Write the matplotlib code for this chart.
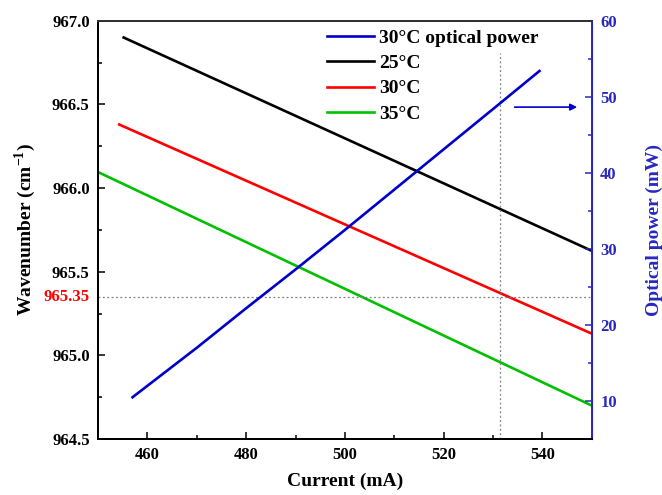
import numpy as np
import matplotlib.pyplot as plt
from matplotlib.lines import Line2D
from matplotlib.ticker import MultipleLocator
import matplotlib.transforms as mtransforms

plt.rcParams['font.family'] = ['Liberation Serif', 'DejaVu Serif']
plt.rcParams['font.weight'] = 'bold'
plt.rcParams['mathtext.fontset'] = 'custom'
plt.rcParams['mathtext.rm'] = 'Liberation Serif:bold'
plt.rcParams['mathtext.bf'] = 'Liberation Serif:bold'

# wavenumber vs current (straight lines)
cur_25 = [455.2, 550]
wn_25 = [966.90, 965.625]
cur_30 = [454.3, 550]
wn_30 = [966.38, 965.13]
cur_35 = [450, 550]
wn_35 = [966.096, 964.70]

# optical power at 30 C
cur_pow = [457, 470, 480, 490, 500, 510, 520, 530, 539.4]
power = [10.5, 17.0, 22.2, 27.3, 32.5, 37.8, 43.1, 48.4, 53.4]

mark_wn = 965.35
mark_cur = 531.4

blue = '#0000C8'
blue_ax = '#2828C0'

fig = plt.figure(figsize=(6.62, 4.95), dpi=100)
ax = fig.add_axes([0.148, 0.113, 0.746, 0.845])
ax2 = ax.twinx()

ax.plot(cur_25, wn_25, color='black', lw=1.9)
ax.plot(cur_30, wn_30, color='#FF0000', lw=1.9)
ax.plot(cur_35, wn_35, color='#00C000', lw=1.9)
ax.axhline(mark_wn, color='gray', ls=(0, (1.5, 2)), lw=0.9)
ax.plot([mark_cur, mark_cur], [964.5, 966.81], color='gray', ls=(0, (1.5, 2)), lw=0.9)

ax2.plot(cur_pow, power, color=blue, lw=1.9)
ax2.annotate('', xy=(547.6, 48.65), xytext=(533.8, 48.65),
             arrowprops=dict(arrowstyle='-|>', color=blue, lw=1.2,
                             mutation_scale=10))

ax.set_xlim(450, 550)
ax.set_ylim(964.5, 967.0)
ax2.set_ylim(5, 60)

ax.xaxis.set_major_locator(MultipleLocator(20))
ax.xaxis.set_minor_locator(MultipleLocator(10))
ax.yaxis.set_major_locator(MultipleLocator(0.5))
ax.yaxis.set_minor_locator(MultipleLocator(0.25))
ax.yaxis.set_major_formatter(plt.FormatStrFormatter('%.1f'))
ax2.yaxis.set_major_locator(MultipleLocator(10))
ax2.yaxis.set_minor_locator(MultipleLocator(5))

ax.tick_params(axis='both', which='both', direction='in', labelsize=12,
               top=False, right=False, pad=6, width=1.1)
ax.tick_params(which='major', length=5)
ax.tick_params(which='minor', length=3)
ax2.tick_params(axis='y', which='both', direction='in', labelsize=12,
                colors=blue_ax, pad=6, width=1.1)
ax2.tick_params(which='major', length=5)
ax2.tick_params(which='minor', length=3)
for lab in ax.get_xticklabels() + ax.get_yticklabels() + ax2.get_yticklabels():
    lab.set_fontweight('bold')

for s in ['left', 'bottom', 'top']:
    ax.spines[s].set_linewidth(1.4)
    ax2.spines[s].set_linewidth(1.4)
ax2.spines['top'].set_color('#333333')
ax2.spines['right'].set_color(blue_ax)
ax2.spines['right'].set_linewidth(1.4)

trans = mtransforms.blended_transform_factory(ax.transAxes, ax.transData)
ax.text(-0.017, mark_wn, '965.35', transform=trans, ha='right', va='center',
        color='#FF0000', fontsize=12, fontweight='bold')

ax.set_xlabel('Current (mA)', fontsize=14, fontweight='bold', labelpad=7)
ax.set_ylabel('Wavenumber (cm$^{-1}$)', fontsize=14, fontweight='bold', labelpad=10)
ax2.set_ylabel('Optical power (mW)', fontsize=14, fontweight='bold',
               color=blue_ax, labelpad=21)

handles = [Line2D([], [], color=blue, lw=1.9),
           Line2D([], [], color='black', lw=1.9),
           Line2D([], [], color='#FF0000', lw=1.9),
           Line2D([], [], color='#00C000', lw=1.9)]
labels = ['30°C optical power', '25°C', '30°C', '35°C']
leg = ax.legend(handles, labels, loc='upper left', bbox_to_anchor=(0.44, 1.008),
                frameon=False, prop={'weight': 'bold', 'size': 14},
                handlelength=2.4, handletextpad=0.3,
                labelspacing=0.4, borderaxespad=0.2)

fig.savefig('out.png', dpi=100)
